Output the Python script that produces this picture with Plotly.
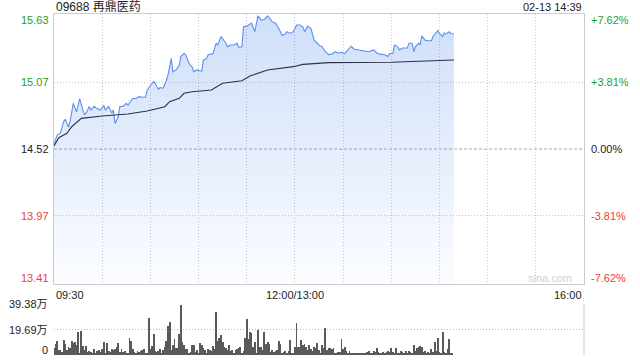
import plotly.graph_objects as go

# ---------------- data ----------------
title_text = "09688 再鼎医药"
stamp_text = "02-13 14:39"
prev_close = 14.52
price_ticks = [15.63, 15.07, 14.52, 13.97, 13.41]
pct_ticks = ["+7.62%", "+3.81%", "0.00%", "-3.81%", "-7.62%"]
time_tickvals = [0, 150, 330]
time_ticktext = ["09:30", "12:00/13:00", "16:00"]
vol_tickvals = [0, 19.69, 39.38]
vol_ticktext = ["0", "19.69万", "39.38万"]

# minutes since 09:30 (trading minutes) and price
price_min = [0, 2, 4, 6, 7, 9, 10, 12, 14, 16, 18, 19, 20, 22, 23, 25, 27, 29, 31, 32,
             34, 36, 37, 38, 40, 41, 43, 45, 46, 49, 51, 53, 55, 57, 58, 60, 62, 63, 65, 66,
             68, 70, 71, 73, 74, 76, 78, 79, 81, 82, 84, 86, 87, 89, 92, 93, 95, 96, 98, 99,
             101, 102, 104, 107, 108, 110, 112, 114, 115, 117, 118, 120, 123, 125, 127, 129,
             131, 133, 136, 138, 140, 142, 144, 145, 147, 149, 150, 151, 153, 155, 156, 158,
             160, 162, 165, 167, 169, 171, 173, 175, 177, 179, 181, 183, 185, 187, 190, 193,
             196, 199, 201, 203, 206, 208, 209, 211, 212, 214, 215, 217, 220, 221, 223, 224,
             225, 227, 228, 229, 231, 233, 235, 236, 238, 239, 240, 242, 243, 244, 246, 247, 249]
price_val = [14.56, 14.635, 14.65, 14.745, 14.765, 14.70, 14.745, 14.895, 14.825, 14.935,
             14.84, 14.80, 14.815, 14.87, 14.84, 14.87, 14.85, 14.84, 14.88, 14.84,
             14.87, 14.815, 14.84, 14.73, 14.785, 14.87, 14.87, 14.895, 14.88, 14.935,
             14.935, 14.95, 14.945, 14.945, 15.005, 15.045, 15.075, 15.06, 15.01, 15.025,
             15.02, 15.085, 15.13, 15.265, 15.155, 15.17, 15.21, 15.28, 15.305, 15.295,
             15.225, 15.195, 15.155, 15.17, 15.16, 15.25, 15.265, 15.295, 15.305, 15.305,
             15.39, 15.375, 15.445, 15.39, 15.36, 15.375, 15.375, 15.39, 15.355, 15.36,
             15.525, 15.53, 15.555, 15.485, 15.615, 15.58, 15.585, 15.615, 15.565, 15.555,
             15.51, 15.455, 15.465, 15.485, 15.47, 15.485, 15.51, 15.54, 15.54, 15.525,
             15.485, 15.53, 15.51, 15.415, 15.375, 15.36, 15.32, 15.295, 15.30, 15.32,
             15.31, 15.315, 15.305, 15.335, 15.365, 15.34, 15.335, 15.33, 15.32, 15.335,
             15.31, 15.30, 15.295, 15.28, 15.305, 15.305, 15.375, 15.36, 15.335, 15.35,
             15.35, 15.39, 15.39, 15.32, 15.36, 15.39, 15.375, 15.45, 15.415, 15.41,
             15.41, 15.445, 15.485, 15.495, 15.47, 15.445, 15.475, 15.465, 15.485, 15.47, 15.465]

avg_min = [0, 3, 8, 11, 17, 30, 46, 58, 69, 72, 78, 81, 86, 98, 105, 117, 122, 133, 149, 155, 171, 210, 249]
avg_val = [14.545, 14.613, 14.649, 14.703, 14.772, 14.791, 14.808, 14.832, 14.868, 14.909,
           14.937, 14.978, 14.991, 15.005, 15.06, 15.081, 15.12, 15.169, 15.197, 15.216,
           15.23, 15.233, 15.252]

# volume per minute (万股), minute 0 .. 248
volume = [5.1, 8.5, 10.8, 3.9, 4.2, 2.6, 11.6, 8.5, 3.9, 6.0, 5.1, 10.8, 9.0, 10.3, 7.5,
          17.8, 1.8, 18.5, 6.9, 3.9, 6.9, 2.6, 3.0, 2.1, 1.8, 4.6, 1.3, 3.3, 3.9, 2.4,
          4.6, 10.0, 1.8, 9.5, 3.3, 2.6, 5.0, 3.9, 4.4, 6.4, 9.5, 2.6, 4.4, 2.0,
          3.3, 1.3, 0.8, 13.1, 11.1, 4.4, 2.6, 1.8, 3.3, 2.6, 3.0,
          3.9, 4.4, 1.3, 1.8, 28.8, 4.4, 6.9, 16.5, 3.3, 2.6, 3.3, 4.4, 1.8, 3.9, 6.4, 11.1,
          22.4, 25.5, 3.9, 8.0,
          12.6, 5.1, 5.1, 16.2, 38.9, 10.0, 7.7, 4.4, 4.4, 1.8, 2.6, 7.7, 7.7, 2.6, 3.9, 1.8,
          9.5, 7.7, 5.1, 3.9, 1.8, 4.4, 3.9, 3.3, 6.9, 4.4, 33.2, 11.1, 13.4, 15.4, 10.3, 6.4,
          5.1, 3.9, 7.7, 2.8,
          3.9, 1.8, 3.9, 4.4, 5.1, 5.9, 1.3, 3.3, 12.9, 27.8, 12.1, 17.8, 16.7, 6.4, 10.3, 1.3,
          19.3, 6.4, 5.9, 3.9, 18.0, 8.5, 10.3, 8.5, 2.6, 4.0,
          2.6, 3.3, 3.9, 11.1, 8.5, 1.8, 2.6, 3.3, 1.8, 3.3, 11.6, 1.8, 1.3, 6.4, 24.7, 5.9,
          6.4, 11.6, 7.7, 8.5, 5.9, 3.9, 7.7, 4.4, 3.3, 6.0,
          5.1, 9.5, 3.9, 1.8, 7.7, 5.1, 20.8, 3.9, 5.1, 5.1, 4.4, 5.1, 1.8, 1.8, 2.6, 2.6,
          12.4, 4.4, 5.9, 3.3, 1.8, 3.3, 1.8, 0.8, 1.3, 1.0,
          0.8, 1.3, 0.8, 1.3, 1.8, 0.8, 2.6, 3.3, 1.3, 1.8, 3.3, 2.6, 5.1, 2.6, 1.8, 1.3,
          2.6, 1.3, 2.1, 3.3, 2.0,
          5.1, 2.6, 1.8, 5.1, 1.3, 1.8, 3.3, 2.6, 1.8, 3.3, 1.8, 3.3, 2.6, 1.8, 7.7, 3.3,
          5.1, 6.4, 6.9, 5.9, 2.4,
          3.3, 1.8, 2.6, 1.3, 4.4, 2.6, 10.0, 3.3, 12.9, 2.6, 1.8, 17.8, 2.6, 1.8, 4.4, 12.1,
          1.3, 1.8]
vol_min = list(range(len(volume)))

# ---------------- styling ----------------
W, H = 640, 360
L, R = 54, 584
P_TOP, P_BOT = 14, 284
V_TOP, V_BOT = 304, 355
GREEN = "#1f9e1f"
RED = "#ee3b3b"
GRID = "#c8c8c8"
BORDER = "#cccccc"
FONT = "Liberation Sans, Arial, sans-serif"
CJK = "Liberation Sans, Noto Sans CJK SC, sans-serif"


def px(x):
    return x / W


def py(y):
    return 1 - y / H


def col(v):
    if abs(v - prev_close) < 1e-9:
        return "#222222"
    return GREEN if v > prev_close else RED


fig = go.Figure()

fig.add_trace(go.Scatter(
    x=price_min, y=price_val, mode="lines",
    line=dict(color="#5b8ef0", width=1.1),
    fill="tozeroy",
    fillgradient=dict(type="vertical", start=price_ticks[-1], stop=price_ticks[0],
                      colorscale=[[0, "rgba(70,130,235,0.02)"], [1, "rgba(70,130,235,0.26)"]]),
    hoverinfo="skip", showlegend=False, xaxis="x", yaxis="y"))

fig.add_trace(go.Scatter(
    x=avg_min, y=avg_val, mode="lines",
    line=dict(color="#2a3444", width=1.1),
    hoverinfo="skip", showlegend=False, xaxis="x", yaxis="y"))

fig.add_trace(go.Bar(
    x=vol_min, y=volume, width=0.55,
    marker=dict(color="#5a5a5a", line=dict(width=0)),
    hoverinfo="skip", showlegend=False, xaxis="x2", yaxis="y2"))

xr = [0, 330]
fig.update_layout(
    width=W, height=H,
    margin=dict(l=0, r=0, t=0, b=0),
    paper_bgcolor="white", plot_bgcolor="rgba(0,0,0,0)",
    font=dict(family=FONT, size=11, color="#222"),
    bargap=0,
    xaxis=dict(domain=[px(L), px(R)], range=xr, tickvals=list(range(0, 331, 30)),
               showticklabels=False, showgrid=True, gridcolor=GRID, griddash="1px,2px",
               gridwidth=1, zeroline=False, showline=True, linecolor=BORDER, mirror=True,
               ticks="", anchor="y"),
    yaxis=dict(domain=[py(P_BOT), py(P_TOP)], range=[price_ticks[-1], price_ticks[0]],
               tickvals=[price_ticks[1], price_ticks[3]], showticklabels=False,
               showgrid=True, gridcolor=GRID, griddash="1px,2px", zeroline=False,
               showline=True, linecolor=BORDER, mirror=True, ticks="", anchor="x"),
    xaxis2=dict(domain=[px(L), px(R)], range=xr, showticklabels=False, showgrid=False,
                zeroline=False, showline=False, ticks="", anchor="y2"),
    yaxis2=dict(domain=[py(V_BOT), py(V_TOP)], range=[0, vol_tickvals[-1]],
                tickvals=vol_tickvals, showticklabels=False, showgrid=True,
                gridcolor="#b8b8b8", griddash="1px,2px", zeroline=False, showline=False,
                ticks="", anchor="x2"),
)

# previous close line
fig.add_shape(type="line", xref="x", yref="y", x0=xr[0], x1=xr[1], y0=prev_close, y1=prev_close,
              line=dict(color="#a8a8a8", width=1, dash="3px,2px"), layer="below")
# right border of volume panel
fig.add_shape(type="line", xref="paper", yref="paper", x0=px(R), x1=px(R), y0=py(V_BOT), y1=py(V_TOP),
              line=dict(color=BORDER, width=1))

ann = []
ann.append(dict(text=title_text, x=px(L), y=py(7), xanchor="left", yanchor="middle",
                font=dict(family=CJK, size=12, color="#222")))
ann.append(dict(text=stamp_text, x=px(R), y=py(7), xanchor="right", yanchor="middle",
                font=dict(size=11, color="#222")))

# price labels (left) and percent labels (right)
span = price_ticks[0] - price_ticks[-1]
for v, t in zip(price_ticks, pct_ticks):
    ypix = P_TOP + (price_ticks[0] - v) / span * (P_BOT - P_TOP)
    ypix = min(max(ypix, P_TOP + 6), P_BOT - 6)
    ann.append(dict(text=f"{v:.2f}", x=px(L - 3), y=py(ypix), xanchor="right", yanchor="middle",
                    font=dict(size=11, color=col(v))))
    ann.append(dict(text=t, x=px(R + 5), y=py(ypix), xanchor="left", yanchor="middle",
                    font=dict(size=11, color=col(v))))

# time labels
for v, t in zip(time_tickvals, time_ticktext):
    xpix = L + v / xr[1] * (R - L)
    anchor = "left" if v == xr[0] else ("right" if v == xr[1] else "center")
    ann.append(dict(text=t, x=px(xpix), y=py(295), xanchor=anchor, yanchor="middle",
                    font=dict(size=11, color="#222")))

# volume labels
for v, t in zip(vol_tickvals, vol_ticktext):
    ypix = V_BOT - v / vol_tickvals[-1] * (V_BOT - V_TOP)
    if v == 0:
        ypix -= 5
    ann.append(dict(text=t, x=px(L - 4), y=py(ypix), xanchor="right", yanchor="middle",
                    font=dict(family=CJK, size=11, color="#222")))

ann.append(dict(text="sina.com", x=px(R - 10), y=py(P_BOT - 6), xanchor="right", yanchor="middle",
                font=dict(size=11, color="#d0d0d0")))

for a in ann:
    a.update(xref="paper", yref="paper", showarrow=False)
fig.update_layout(annotations=ann)

fig.write_html("out.html")
